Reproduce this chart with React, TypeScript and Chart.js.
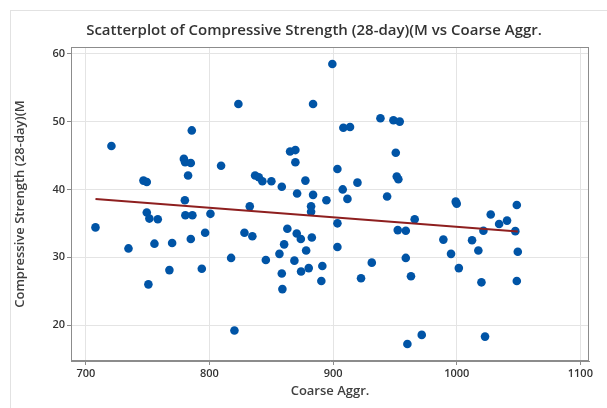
import React, { useEffect, useRef } from "react";
import { Chart, registerables } from "chart.js";

Chart.register(...registerables);

const coarseAggr: number[] = [
  823.4, 785.7, 720.7, 779.3, 780.3, 784.9, 782.7, 809.4, 746.6, 749.3,
  899.4, 883.8, 938.3, 948.8, 953.9, 908.3, 913.7, 865.2, 869.5, 869.5,
  950.7, 903.5, 836.9, 839.9, 842.8, 850.1, 858.5, 877.6, 951.5, 952.8,
  907.8, 919.7, 707.8, 734.5, 749.3, 751.4, 758.2, 755.5, 750.6, 769.8,
  767.6, 780.1, 780.5, 786.2, 784.9, 800.8, 796.5, 793.8, 817.5, 820.2,
  870.9, 883.8, 894.6, 911.6, 943.7, 832.6, 882.2, 882.2, 903.5, 828.3,
  834.7, 863.0, 870.6, 873.9, 882.8, 860.4, 856.6, 878.2, 903.5, 845.6,
  868.7, 858.5, 874.1, 880.3, 891.3, 890.5, 859.0, 931.3, 922.6, 958.8,
  963.0, 952.3, 958.8, 960.1, 999.2, 1000.0, 1048.6, 1027.5, 1034.3, 1040.7,
  966.0, 1021.6, 1047.4, 989.2, 1012.4, 1017.5, 1049.4, 995.4, 1001.7, 1020.0,
  1048.6, 971.7, 1022.9,
];

const strength: number[] = [
  52.6, 48.7, 46.4, 44.5, 44.0, 43.9, 42.05, 43.5, 41.3, 41.1,
  58.5, 52.6, 50.5, 50.2, 50.0, 49.1, 49.2, 45.6, 45.8, 44.0,
  45.4, 43.0, 42.05, 41.8, 41.2, 41.2, 40.4, 41.3, 41.9, 41.5,
  40.0, 41.0, 34.4, 31.3, 36.6, 35.7, 35.6, 32.0, 26.0, 32.1,
  28.1, 38.4, 36.2, 36.2, 32.7, 36.4, 33.6, 28.3, 29.9, 19.2,
  39.4, 39.2, 38.4, 38.6, 38.95, 37.5, 37.5, 36.7, 35.0, 33.6,
  33.1, 34.2, 33.5, 32.7, 32.9, 31.9, 30.5, 31.0, 31.5, 29.6,
  29.5, 27.6, 27.9, 28.4, 28.7, 26.5, 25.3, 29.2, 26.9, 29.9,
  27.2, 34.0, 33.9, 17.2, 38.2, 37.9, 37.7, 36.3, 34.9, 35.4,
  35.6, 33.9, 33.85, 32.6, 32.5, 31.0, 30.8, 30.5, 28.4, 26.3,
  26.5, 18.55, 18.3,
];

const fitX: number[] = [707.8, 1049.4];
const fitY: number[] = [38.57, 33.8];

const xTicks: number[] = [700, 800, 900, 1000, 1100];
const yTicks: number[] = [20, 30, 40, 50, 60];

const chartTitle = "Scatterplot of Compressive Strength (28-day)(M vs Coarse Aggr.";

const FONT = "'Open Sans', 'Noto Sans', sans-serif";

const boxPlugin = {
  id: "plotBox",
  afterDraw(chart: any) {
    const { ctx, chartArea } = chart;
    ctx.save();
    ctx.strokeStyle = "#8c8c8c";
    ctx.lineWidth = 1;
    ctx.strokeRect(
      Math.round(chartArea.left) + 0.5,
      Math.round(chartArea.top) + 0.5,
      Math.round(chartArea.right - chartArea.left) - 1,
      Math.round(chartArea.bottom - chartArea.top) - 1
    );
    ctx.fillStyle = "#333333";
    ctx.font = `600 15px ${FONT}`;
    ctx.textAlign = "center";
    ctx.textBaseline = "middle";
    ctx.fillText(chartTitle, 314, 31);
    ctx.restore();
  },
};

export default function App() {
  const canvasRef = useRef<HTMLCanvasElement | null>(null);

  useEffect(() => {
    const canvas = canvasRef.current;
    if (!canvas) return;
    const chart = new Chart(canvas, {
      type: "scatter",
      data: {
        datasets: [
          {
            label: "Fit",
            type: "line",
            data: fitX.map((x, i) => ({ x, y: fitY[i] })),
            borderColor: "#8e1f1f",
            borderWidth: 2,
            pointRadius: 0,
            fill: false,
            order: 0,
          },
          {
            label: "Data",
            data: coarseAggr.map((x, i) => ({ x, y: strength[i] })),
            backgroundColor: "#0054a6",
            borderColor: "#0054a6",
            borderWidth: 0,
            pointRadius: 4.3,
            order: 1,
          },
        ],
      },
      options: {
        animation: false,
        responsive: false,
        maintainAspectRatio: false,
        layout: { padding: { left: 0, right: 18, top: 47, bottom: 0 } },
        plugins: {
          legend: { display: false },
          tooltip: { enabled: false },
          title: { display: false },
        },
        scales: {
          x: {
            type: "linear",
            min: 688,
            max: 1107,
            afterBuildTicks: (scale: any) => {
              scale.ticks = xTicks.map((v) => ({ value: v }));
            },
            afterFit: (scale: any) => {
              scale.height = 47;
            },
            grid: {
              color: "#e4e4e4",
              tickColor: "#8c8c8c",
              tickLength: 4,
              drawTicks: true,
            },
            border: { color: "#8c8c8c", width: 1 },
            ticks: {
              color: "#333333",
              padding: 2,
              maxRotation: 0,
              font: { family: FONT, size: 11, weight: "600" },
              callback: (v: any) => String(v),
            },
            title: {
              display: true,
              text: "Coarse Aggr.",
              color: "#404040",
              font: { family: FONT, size: 13, weight: "600", lineHeight: 1.2 },
              padding: { top: 0, bottom: 9 },
            },
          },
          y: {
            type: "linear",
            min: 14.7,
            max: 61,
            afterBuildTicks: (scale: any) => {
              scale.ticks = yTicks.map((v) => ({ value: v }));
            },
            afterFit: (scale: any) => {
              scale.width = 71;
            },
            grid: {
              color: "#e4e4e4",
              tickColor: "#8c8c8c",
              tickLength: 4,
              drawTicks: true,
            },
            border: { color: "#8c8c8c", width: 1 },
            ticks: {
              color: "#333333",
              padding: 2,
              font: { family: FONT, size: 11, weight: "600" },
              callback: (v: any) => String(v),
            },
            title: {
              display: true,
              text: "Compressive Strength (28-day)(M",
              color: "#404040",
              font: { family: FONT, size: 13, weight: "600", lineHeight: 1.2 },
              padding: { top: 12, bottom: 0 },
            },
          },
        },
      },
      plugins: [boxPlugin],
    });
    return () => chart.destroy();
  }, []);

  return (
    <div
      style={{
        position: "fixed",
        left: 0,
        top: 0,
        width: 607,
        height: 408,
        overflow: "hidden",
        background: "#ffffff",
      }}
    >
      <div
        style={{
          position: "absolute",
          left: 10,
          top: 10,
          width: 597,
          height: 398,
          borderLeft: "1px solid #e2e2e2",
          borderTop: "1px solid #e2e2e2",
          boxSizing: "border-box",
        }}
      />
      <canvas
        ref={canvasRef}
        width={607}
        height={408}
        style={{ position: "absolute", left: 0, top: 0, width: 607, height: 408 }}
      />
    </div>
  );
}
